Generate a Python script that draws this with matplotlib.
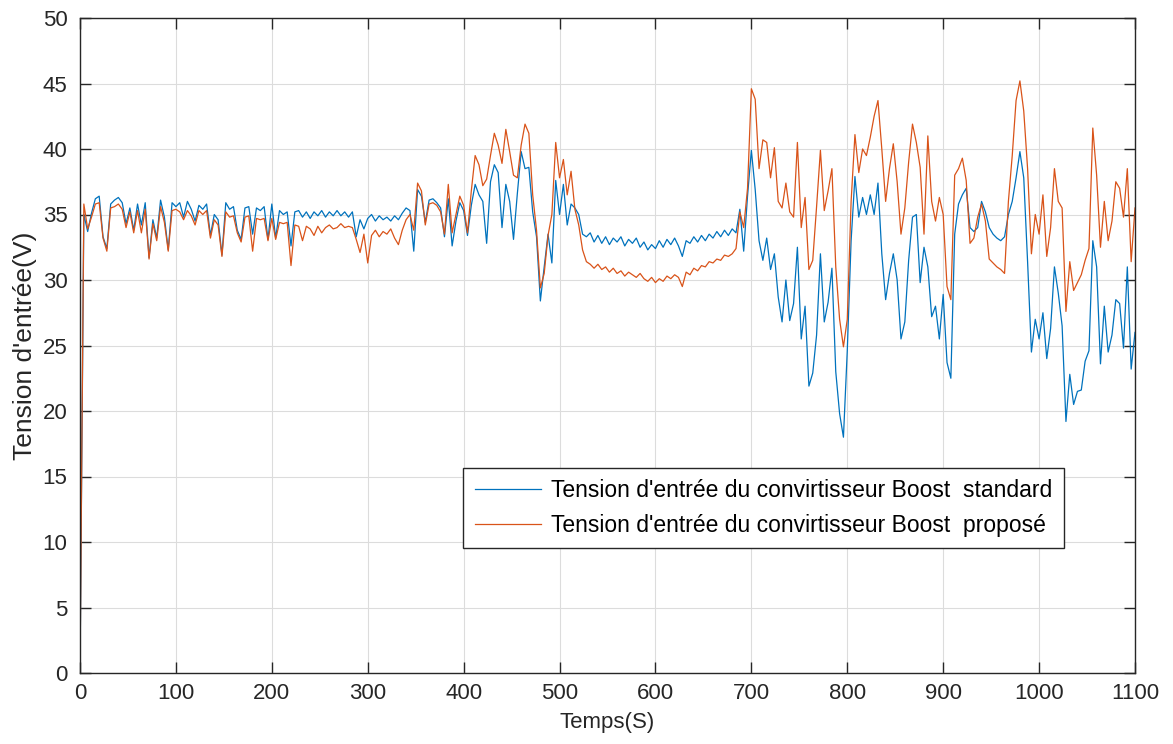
import numpy as np
import matplotlib
matplotlib.use("Agg")
import matplotlib.pyplot as plt

plt.rcParams['font.family'] = ['Liberation Sans', 'DejaVu Sans']

# Sampling instants (s), one sample every 4 s
temps = np.arange(0, 1101, 4)

# Input voltage of the standard boost converter (V)
v_standard = [
    0.0, 35.0, 33.7, 35.1, 36.2, 36.4, 33.3, 32.4, 35.8, 36.1,
    36.3, 35.9, 34.3, 35.5, 33.8, 35.8, 34.2, 35.9, 31.7, 34.6,
    33.2, 36.1, 34.8, 32.3, 35.9, 35.6, 35.9, 34.8, 36.0, 35.4,
    34.5, 35.7, 35.4, 35.8, 33.4, 35.0, 34.6, 31.9, 35.9, 35.4,
    35.6, 33.8, 33.1, 35.5, 35.6, 33.5, 35.5, 35.3, 35.6, 33.1,
    35.8, 33.2, 35.3, 35.0, 35.2, 32.6, 35.2, 35.3, 34.8, 35.2,
    34.7, 35.2, 34.9, 35.3, 34.8, 35.2, 34.9, 35.3, 34.9, 35.2,
    34.8, 35.2, 33.3, 34.6, 33.9, 34.7, 35.0, 34.5, 34.9, 34.6,
    34.8, 34.5, 34.9, 34.6, 35.1, 35.5, 35.3, 32.2, 36.9, 36.4,
    34.4, 36.1, 36.2, 35.9, 35.5, 33.3, 36.2, 32.6, 34.5, 35.9,
    35.3, 33.4, 35.7, 37.3, 36.5, 36.0, 32.8, 37.5, 38.8, 38.2,
    34.0, 37.3, 36.0, 33.1, 36.6, 39.8, 38.5, 38.6, 35.2, 33.3,
    28.4, 31.0, 33.5, 31.3, 37.6, 35.0, 37.3, 34.2, 35.8, 35.5,
    35.0, 33.5, 33.3, 33.6, 32.9, 33.4, 32.8, 33.3, 32.7, 33.2,
    32.9, 33.3, 32.6, 33.1, 32.8, 33.2, 32.5, 32.9, 32.3, 32.7,
    32.4, 33.0, 32.5, 33.1, 32.7, 33.2, 32.6, 31.8, 33.0, 32.8,
    33.3, 32.9, 33.4, 33.0, 33.5, 33.2, 33.7, 33.3, 33.8, 33.4,
    33.9, 33.6, 35.4, 32.2, 36.4, 39.9, 36.9, 33.0, 31.5, 33.2,
    30.8, 32.0, 28.7, 26.8, 30.0, 26.9, 28.2, 32.5, 25.5, 28.0,
    21.9, 22.9, 25.8, 32.0, 26.8, 28.3, 30.9, 23.0, 19.8, 18.0,
    24.6, 33.0, 37.9, 34.8, 36.3, 35.0, 36.5, 35.0, 37.4, 32.0,
    28.5, 30.5, 32.0, 30.0, 25.5, 26.8, 31.5, 34.8, 35.0, 29.8,
    32.5, 31.0, 27.2, 28.0, 25.5, 28.9, 23.7, 22.5, 33.5, 35.8,
    36.5, 37.0, 34.0, 33.7, 34.0, 36.0, 35.2, 34.0, 33.5, 33.2,
    33.0, 33.3, 35.0, 36.0, 37.8, 39.8, 37.8, 31.4, 24.5, 27.0,
    25.5, 27.5, 24.0, 26.3, 31.0, 29.0, 26.5, 19.2, 22.8, 20.5,
    21.5, 21.6, 23.8, 24.6, 33.0, 31.0, 23.6, 28.0, 24.5, 25.8,
    28.5, 28.2, 24.8, 31.0, 23.2, 26.0,
]

# Input voltage of the proposed boost converter (V)
v_propose = [
    0.0, 35.8, 33.9, 34.8, 35.8, 35.9, 33.2, 32.2, 35.5, 35.6,
    35.8, 35.4, 34.0, 35.2, 33.6, 35.3, 33.6, 35.4, 31.6, 34.3,
    33.0, 35.6, 34.4, 32.2, 35.3, 35.4, 35.2, 34.6, 35.3, 34.9,
    34.2, 35.3, 35.0, 35.3, 33.2, 34.6, 34.2, 31.8, 35.2, 34.8,
    34.9, 33.6, 32.9, 34.8, 34.9, 32.2, 34.7, 34.6, 34.7, 33.0,
    34.7, 33.1, 34.4, 34.3, 34.4, 31.1, 34.2, 34.1, 33.0, 34.1,
    33.9, 33.4, 34.1, 33.6, 34.0, 34.2, 33.9, 34.0, 34.3, 34.0,
    34.1, 34.0, 33.1, 32.1, 33.5, 31.3, 33.4, 33.8, 33.3, 33.7,
    33.5, 33.9, 33.2, 32.7, 33.8, 34.6, 35.0, 33.8, 37.4, 36.8,
    34.2, 35.8, 35.9, 35.7, 35.2, 33.5, 37.3, 33.6, 35.0, 36.4,
    35.7, 33.6, 36.8, 39.5, 38.8, 37.2, 37.7, 39.5, 41.2, 40.3,
    38.9, 41.5, 39.8, 38.0, 37.8, 40.3, 41.9, 41.2, 36.5, 33.8,
    29.4, 30.5, 33.4, 35.0, 40.5, 37.8, 39.2, 36.5, 38.3, 35.4,
    34.2, 32.3, 31.4, 31.2, 30.9, 31.2, 30.8, 31.0, 30.6, 30.9,
    30.5, 30.7, 30.3, 30.6, 30.4, 30.2, 30.5, 30.1, 29.9, 30.2,
    29.8, 30.1, 29.9, 30.3, 30.1, 30.4, 30.2, 29.5, 30.6, 30.4,
    30.9, 30.7, 31.1, 31.0, 31.4, 31.3, 31.6, 31.5, 31.9, 31.8,
    32.0, 32.4, 35.2, 34.0, 37.0, 44.6, 43.8, 38.5, 40.7, 40.5,
    37.8, 40.1, 36.0, 35.5, 37.4, 35.2, 34.8, 40.5, 34.0, 36.3,
    30.8, 31.5, 35.6, 39.9, 35.3, 36.8, 38.5, 31.0, 27.0, 24.9,
    27.0, 36.0, 41.1, 38.2, 40.0, 39.5, 40.9, 42.5, 43.7, 40.0,
    36.0, 38.5, 40.4, 37.5, 33.5, 35.5, 39.0, 41.9, 40.5, 38.6,
    33.5, 41.0, 36.0, 34.5, 36.3, 35.0, 29.5, 28.5, 38.0, 38.5,
    39.3, 37.6, 32.8, 33.2, 34.8, 35.8, 34.5, 31.6, 31.3, 31.0,
    30.8, 30.5, 36.0, 39.5, 43.7, 45.2, 42.9, 38.5, 32.0, 35.0,
    33.5, 36.5, 31.8, 34.0, 38.5, 36.0, 35.5, 27.6, 31.4, 29.2,
    29.8, 30.4, 31.5, 32.4, 41.6, 38.0, 32.5, 36.0, 33.0, 34.5,
    37.5, 37.0, 34.8, 38.5, 31.4, 35.5,
]

labels = [
    "Tension d'entrée du convirtisseur Boost  standard",
    "Tension d'entrée du convirtisseur Boost  proposé",
]
x_ticks = list(range(0, 1101, 100))
y_ticks = list(range(0, 51, 5))

fig = plt.figure(figsize=(11.73, 7.44), dpi=100)
ax = fig.add_axes([80 / 1173, 71 / 744, 1055 / 1173, 655 / 744])

ax.plot(temps, v_standard, color='#0072BD', lw=0.9, label=labels[0])
ax.plot(temps, v_propose, color='#D95319', lw=0.9, label=labels[1])

ax.set_xlim(0, 1100)
ax.set_ylim(0, 50)
ax.set_xticks(x_ticks)
ax.set_yticks(y_ticks)
ax.grid(True, color='#dcdcdc', lw=0.8)
ax.set_axisbelow(True)

ax.tick_params(direction='in', length=8, width=1, top=True, right=True,
               labelsize=16, colors='#262626')
ax.tick_params(axis='x', pad=7)
ax.tick_params(axis='y', pad=9)
for s in ax.spines.values():
    s.set_color('#262626')
    s.set_linewidth(1.0)

ax.set_xlabel('Temps(S)', fontsize=16, color='#262626', labelpad=6)
ax.set_ylabel("Tension d'entrée(V)", fontsize=19, color='#262626', labelpad=4)

leg = ax.legend(loc='center', bbox_to_anchor=(0.648, 0.252), fontsize=16.5,
                handlelength=2.9, handletextpad=0.45, labelspacing=0.5,
                borderpad=0.5, borderaxespad=0, fancybox=False, framealpha=1)
leg.get_frame().set_edgecolor('#262626')
leg.get_frame().set_linewidth(1.0)

fig.savefig('out.png', dpi=100)
